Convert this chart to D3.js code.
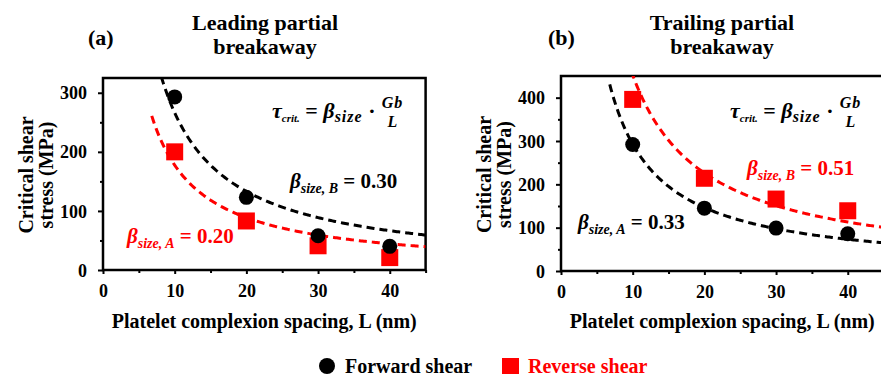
<!DOCTYPE html>
<html>
<head>
<meta charset="utf-8">
<script src="https://cdn.jsdelivr.net/npm/d3@7"></script>
<style>
  body { margin: 0; background: #fff; }
  svg text { font-family: "Liberation Serif", "Times New Roman", serif; font-weight: bold; }
</style>
</head>
<body>
<svg width="881" height="378"></svg>
<script>
// spacing L (nm) and critical shear stress (MPa)
var spacing = [10, 20, 30, 40];
var leadForward = [293, 123, 58, 40];
var leadReverse = [200, 83, 41, 21];
var trailForward = [292, 145, 99, 86];
var trailReverse = [396, 214, 166, 139];

// fitted beta_size values, tau = beta * Gb / L
var Gb = 8870;
var leadBeta = { forward: 0.30, reverse: 0.20 };
var trailBeta = { forward: 0.33, reverse: 0.51 };

var xTicks = [0, 10, 20, 30, 40];
var leadYTicks = [0, 100, 200, 300];
var trailYTicks = [0, 100, 200, 300, 400];

var svg = d3.select("svg");

var panels = [
  {
    id: "a", letter: "(a)", title: ["Leading partial", "breakaway"],
    left: 103, top: 78, bottom: 270, yMax: 325, yTicks: leadYTicks,
    forward: leadForward, reverse: leadReverse, beta: leadBeta,
    titleX: 265, letterX: 88, eqX: 272,
    labels: [
      { text: "B", value: "= 0.30", color: "black", x: 290, y: 188 },
      { text: "A", value: "= 0.20", color: "red", x: 127, y: 243 }
    ]
  },
  {
    id: "b", letter: "(b)", title: ["Trailing partial", "breakaway"],
    left: 561, top: 76, bottom: 271, yMax: 450, yTicks: trailYTicks,
    forward: trailForward, reverse: trailReverse, beta: trailBeta,
    titleX: 722, letterX: 548, eqX: 730,
    labels: [
      { text: "B", value: "= 0.51", color: "red", x: 747, y: 175 },
      { text: "A", value: "= 0.33", color: "black", x: 578, y: 229 }
    ]
  }
];

panels.forEach(drawPanel);

function drawPanel(p) {
  var width = 322.6, height = p.bottom - p.top;
  var x = d3.scaleLinear().domain([0, 45]).range([0, width]);
  var y = d3.scaleLinear().domain([0, p.yMax]).range([height, 0]);

  // titles
  svg.append("text").attr("x", p.titleX).attr("y", 30).attr("text-anchor", "middle")
    .attr("font-size", "22px").text(p.title[0]);
  svg.append("text").attr("x", p.titleX).attr("y", 54).attr("text-anchor", "middle")
    .attr("font-size", "22px").text(p.title[1]);
  svg.append("text").attr("x", p.letterX).attr("y", 45)
    .attr("font-size", "22px").text(p.letter);

  var g = svg.append("g").attr("transform", "translate(" + p.left + "," + p.top + ")");

  g.append("clipPath").attr("id", "clip-" + p.id)
    .append("rect").attr("width", width).attr("height", height);

  // minor ticks
  g.append("g").attr("transform", "translate(0," + height + ")")
    .call(d3.axisBottom(x).tickValues(d3.range(5, 46, 10)).tickSize(3).tickFormat(""))
    .call(a => a.select(".domain").remove())
    .selectAll("line").attr("stroke-width", 2);
  g.append("g")
    .call(d3.axisLeft(y).tickValues(p.yTicks.map(d => d + 50).filter(d => d < p.yMax)).tickSize(3).tickFormat(""))
    .call(a => a.select(".domain").remove())
    .selectAll("line").attr("stroke-width", 2);

  // major ticks
  var xa = g.append("g").attr("transform", "translate(0," + height + ")")
    .call(d3.axisBottom(x).tickValues(xTicks).tickSize(4).tickPadding(10));
  xa.select(".domain").remove();
  xa.selectAll("line").attr("stroke-width", 2);
  xa.selectAll("text").attr("font-size", "18px").attr("font-family", null).attr("dy", null)
    .attr("y", 27);

  var ya = g.append("g")
    .call(d3.axisLeft(y).tickValues(p.yTicks).tickSize(5).tickPadding(11));
  ya.select(".domain").remove();
  ya.selectAll("line").attr("stroke-width", 2);
  ya.selectAll("text").attr("font-size", "18px").attr("font-family", null).attr("dy", "0.34em");

  // frame
  g.append("rect").attr("width", width).attr("height", height)
    .attr("fill", "none").attr("stroke", "black").attr("stroke-width", 2.5);

  // axis labels
  svg.append("text").attr("x", p.left + width / 2).attr("y", 328).attr("text-anchor", "middle")
    .attr("font-size", "20px").text("Platelet complexion spacing, L (nm)");
  var cy = p.top + height / 2 + 1;
  svg.append("text").attr("transform", "translate(" + (p.left - 70) + "," + cy + ") rotate(-90)")
    .attr("text-anchor", "middle").attr("font-size", "20px").text("Critical shear");
  svg.append("text").attr("transform", "translate(" + (p.left - 50) + "," + cy + ") rotate(-90)")
    .attr("text-anchor", "middle").attr("font-size", "20px").text("stress (MPa)");

  // fitted curves
  var curves = g.append("g").attr("clip-path", "url(#clip-" + p.id + ")");
  [["forward", "black"], ["reverse", "red"]].forEach(function (s) {
    var k = p.beta[s[0]] * Gb;
    var pts = d3.range(6.8, 45.01, 0.2);
    curves.append("path")
      .attr("d", d3.line().x(d => x(d)).y(d => y(k / d))(pts))
      .attr("fill", "none").attr("stroke", s[1]).attr("stroke-width", 3)
      .attr("stroke-dasharray", "8,5");
  });

  // markers
  g.selectAll(".rev").data(p.reverse).enter().append("rect")
    .attr("x", (d, i) => x(spacing[i]) - 8.5).attr("y", d => y(d) - 8.5)
    .attr("width", 17).attr("height", 17).attr("fill", "red");
  g.selectAll(".fwd").data(p.forward).enter().append("circle")
    .attr("cx", (d, i) => x(spacing[i])).attr("cy", d => y(d))
    .attr("r", 7.5).attr("fill", "black");

  // equation
  var eq = svg.append("text").attr("x", p.eqX).attr("y", 118).attr("font-size", "22px")
    .attr("font-style", "italic");
  eq.append("tspan").text("τ");
  eq.append("tspan").attr("font-size", "11px").attr("dy", 4).text("crit.");
  eq.append("tspan").attr("font-style", "normal").attr("dy", -4).text(" = ");
  eq.append("tspan").text("β");
  eq.append("tspan").attr("font-size", "16px").attr("dy", 4).attr("letter-spacing", "1px").text("size");
  eq.append("tspan").attr("font-style", "normal").attr("dy", -4).text(" · ");
  var right = p.eqX + eq.node().getComputedTextLength() + 17;
  svg.append("text").attr("x", right).attr("y", 108).attr("text-anchor", "middle")
    .attr("font-size", "16px").attr("font-style", "italic").attr("letter-spacing", "1px").text("Gb");
  svg.append("text").attr("x", right).attr("y", 127).attr("text-anchor", "middle")
    .attr("font-size", "16px").attr("font-style", "italic").text("L");

  // beta labels
  p.labels.forEach(function (l) {
    var t = svg.append("text").attr("x", l.x).attr("y", l.y).attr("font-size", "21px")
      .attr("fill", l.color);
    t.append("tspan").attr("font-style", "italic").text("β");
    t.append("tspan").attr("font-style", "italic").attr("font-size", "14px").attr("dy", 5)
      .text("size, " + l.text);
    t.append("tspan").attr("dy", -5).text(" " + l.value);
  });
}

// legend
var legend = svg.append("g");
legend.append("circle").attr("cx", 327).attr("cy", 366).attr("r", 8).attr("fill", "black");
legend.append("text").attr("x", 345).attr("y", 373).attr("font-size", "20px").text("Forward shear");
legend.append("rect").attr("x", 502).attr("y", 358).attr("width", 17).attr("height", 16).attr("fill", "red");
legend.append("text").attr("x", 528).attr("y", 373).attr("font-size", "20px").attr("fill", "red")
  .text("Reverse shear");
</script>
</body>
</html>
